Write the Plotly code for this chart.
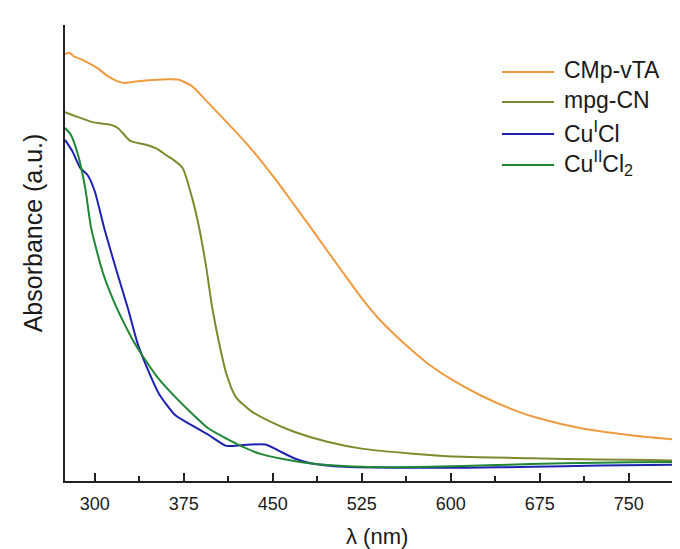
import plotly.graph_objects as go

# CMp-vTA
wl_cmp = [275, 279, 282, 290, 302, 311, 319, 325, 332, 341, 353, 362, 371, 382, 393, 405, 417, 428,
          439, 454, 468, 482, 496, 511, 525, 539, 554, 568, 582, 600, 625, 654, 675, 711, 750, 800]
ab_cmp = [0.936, 0.939, 0.932, 0.923, 0.906, 0.888, 0.877, 0.873, 0.875, 0.878, 0.880, 0.881, 0.880,
          0.866, 0.837, 0.804, 0.771, 0.740, 0.706, 0.656, 0.606, 0.556, 0.505, 0.451, 0.401, 0.357,
          0.318, 0.285, 0.255, 0.224, 0.188, 0.155, 0.137, 0.115, 0.101, 0.088]

# mpg-CN
wl_mpg = [275, 286, 298, 314, 320, 330, 344, 353, 360, 366, 374, 382, 388, 394, 399, 405, 411, 419,
          431, 448, 468, 496, 525, 568, 611, 668, 725, 768, 800]
ab_mpg = [0.809, 0.798, 0.787, 0.781, 0.773, 0.746, 0.737, 0.728, 0.715, 0.705, 0.687, 0.622, 0.556,
          0.469, 0.381, 0.301, 0.235, 0.184, 0.155, 0.130, 0.108, 0.086, 0.071, 0.060, 0.053, 0.050,
          0.047, 0.046, 0.044]

# Cu(I)Cl
wl_cu1 = [275, 281, 288, 294, 300, 308, 319, 328, 336, 345, 354, 368, 382, 396, 411, 425, 444, 454,
          468, 482, 511, 554, 611, 668, 725, 768, 800]
ab_cu1 = [0.748, 0.724, 0.686, 0.671, 0.636, 0.555, 0.456, 0.379, 0.303, 0.243, 0.192, 0.144, 0.122,
          0.101, 0.077, 0.079, 0.080, 0.068, 0.050, 0.039, 0.031, 0.029, 0.029, 0.031, 0.034, 0.035,
          0.036]

# Cu(II)Cl2
wl_cu2 = [275, 280, 286, 292, 297, 307, 315, 324, 332, 341, 354, 368, 382, 396, 411, 425, 439, 468,
          496, 525, 582, 639, 696, 753, 800]
ab_cu2 = [0.774, 0.759, 0.715, 0.643, 0.555, 0.456, 0.401, 0.350, 0.310, 0.272, 0.224, 0.184, 0.148,
          0.115, 0.093, 0.075, 0.060, 0.044, 0.035, 0.031, 0.031, 0.035, 0.039, 0.041, 0.042]

x_ticks = [300, 375, 450, 525, 600, 675, 750]

series = [
    ("CMp-vTA", wl_cmp, ab_cmp, "#F09A40"),
    ("mpg-CN", wl_mpg, ab_mpg, "#7F8A2E"),
    ("Cu<sup>I</sup>Cl", wl_cu1, ab_cu1, "#1E22B0"),
    ("Cu<sup>II</sup>Cl<sub>2</sub>", wl_cu2, ab_cu2, "#1F8636"),
]

font = "Liberation Sans, Arial, sans-serif"
fig = go.Figure()
shapes = []
annotations = []
# legend rows (paper coordinates)
leg_y = [0.897, 0.831, 0.761, 0.693]
for (name, x, y, c), ly in zip(series, leg_y):
    fig.add_trace(go.Scatter(x=x, y=y, mode="lines", name=name, showlegend=False,
                             line=dict(color=c, width=2, shape="spline", smoothing=0.6)))
    shapes.append(dict(type="line", xref="paper", yref="paper", x0=0.7014, x1=0.785, y0=ly, y1=ly,
                       line=dict(color=c, width=2)))
    annotations.append(dict(text=name, xref="paper", yref="paper", x=0.797, y=ly + 0.004,
                            xanchor="left", yanchor="middle", showarrow=False,
                            font=dict(size=23, family=font, color="#1a1a1a")))

annotations.append(dict(text="λ (nm)", xref="paper", yref="paper", x=0.5, y=-0.122,
                        xanchor="center", yanchor="middle", showarrow=False,
                        font=dict(size=22, family=font, color="#1a1a1a")))
annotations.append(dict(text="Absorbance (a.u.)", xref="paper", yref="paper", x=-0.05, y=0.545,
                        xanchor="center", yanchor="middle", textangle=-90, showarrow=False,
                        font=dict(size=25, family=font, color="#1a1a1a")))

fig.update_layout(
    width=680, height=549,
    margin=dict(l=57, r=0, t=17, b=76),
    paper_bgcolor="white", plot_bgcolor="white",
    font=dict(family=font, size=18, color="#1a1a1a"),
    showlegend=False,
    shapes=shapes,
    annotations=annotations,
    xaxis=dict(range=[275, 800], tickvals=x_ticks, ticktext=[str(v) for v in x_ticks],
               ticks="inside", ticklen=8, tickwidth=1.5, tickcolor="#222",
               minor=dict(dtick=37.5, tick0=300, ticks="inside", ticklen=5, tickwidth=1.5, tickcolor="#222"),
               showline=True, linecolor="#222", linewidth=1.5, showgrid=False, zeroline=False,
               tickfont=dict(size=18), ticklabelstandoff=6),
    yaxis=dict(range=[0, 1], showticklabels=False, ticks="", showline=True, linecolor="#222",
               linewidth=1.5, showgrid=False, zeroline=False),
)
fig.write_html("out.html")
